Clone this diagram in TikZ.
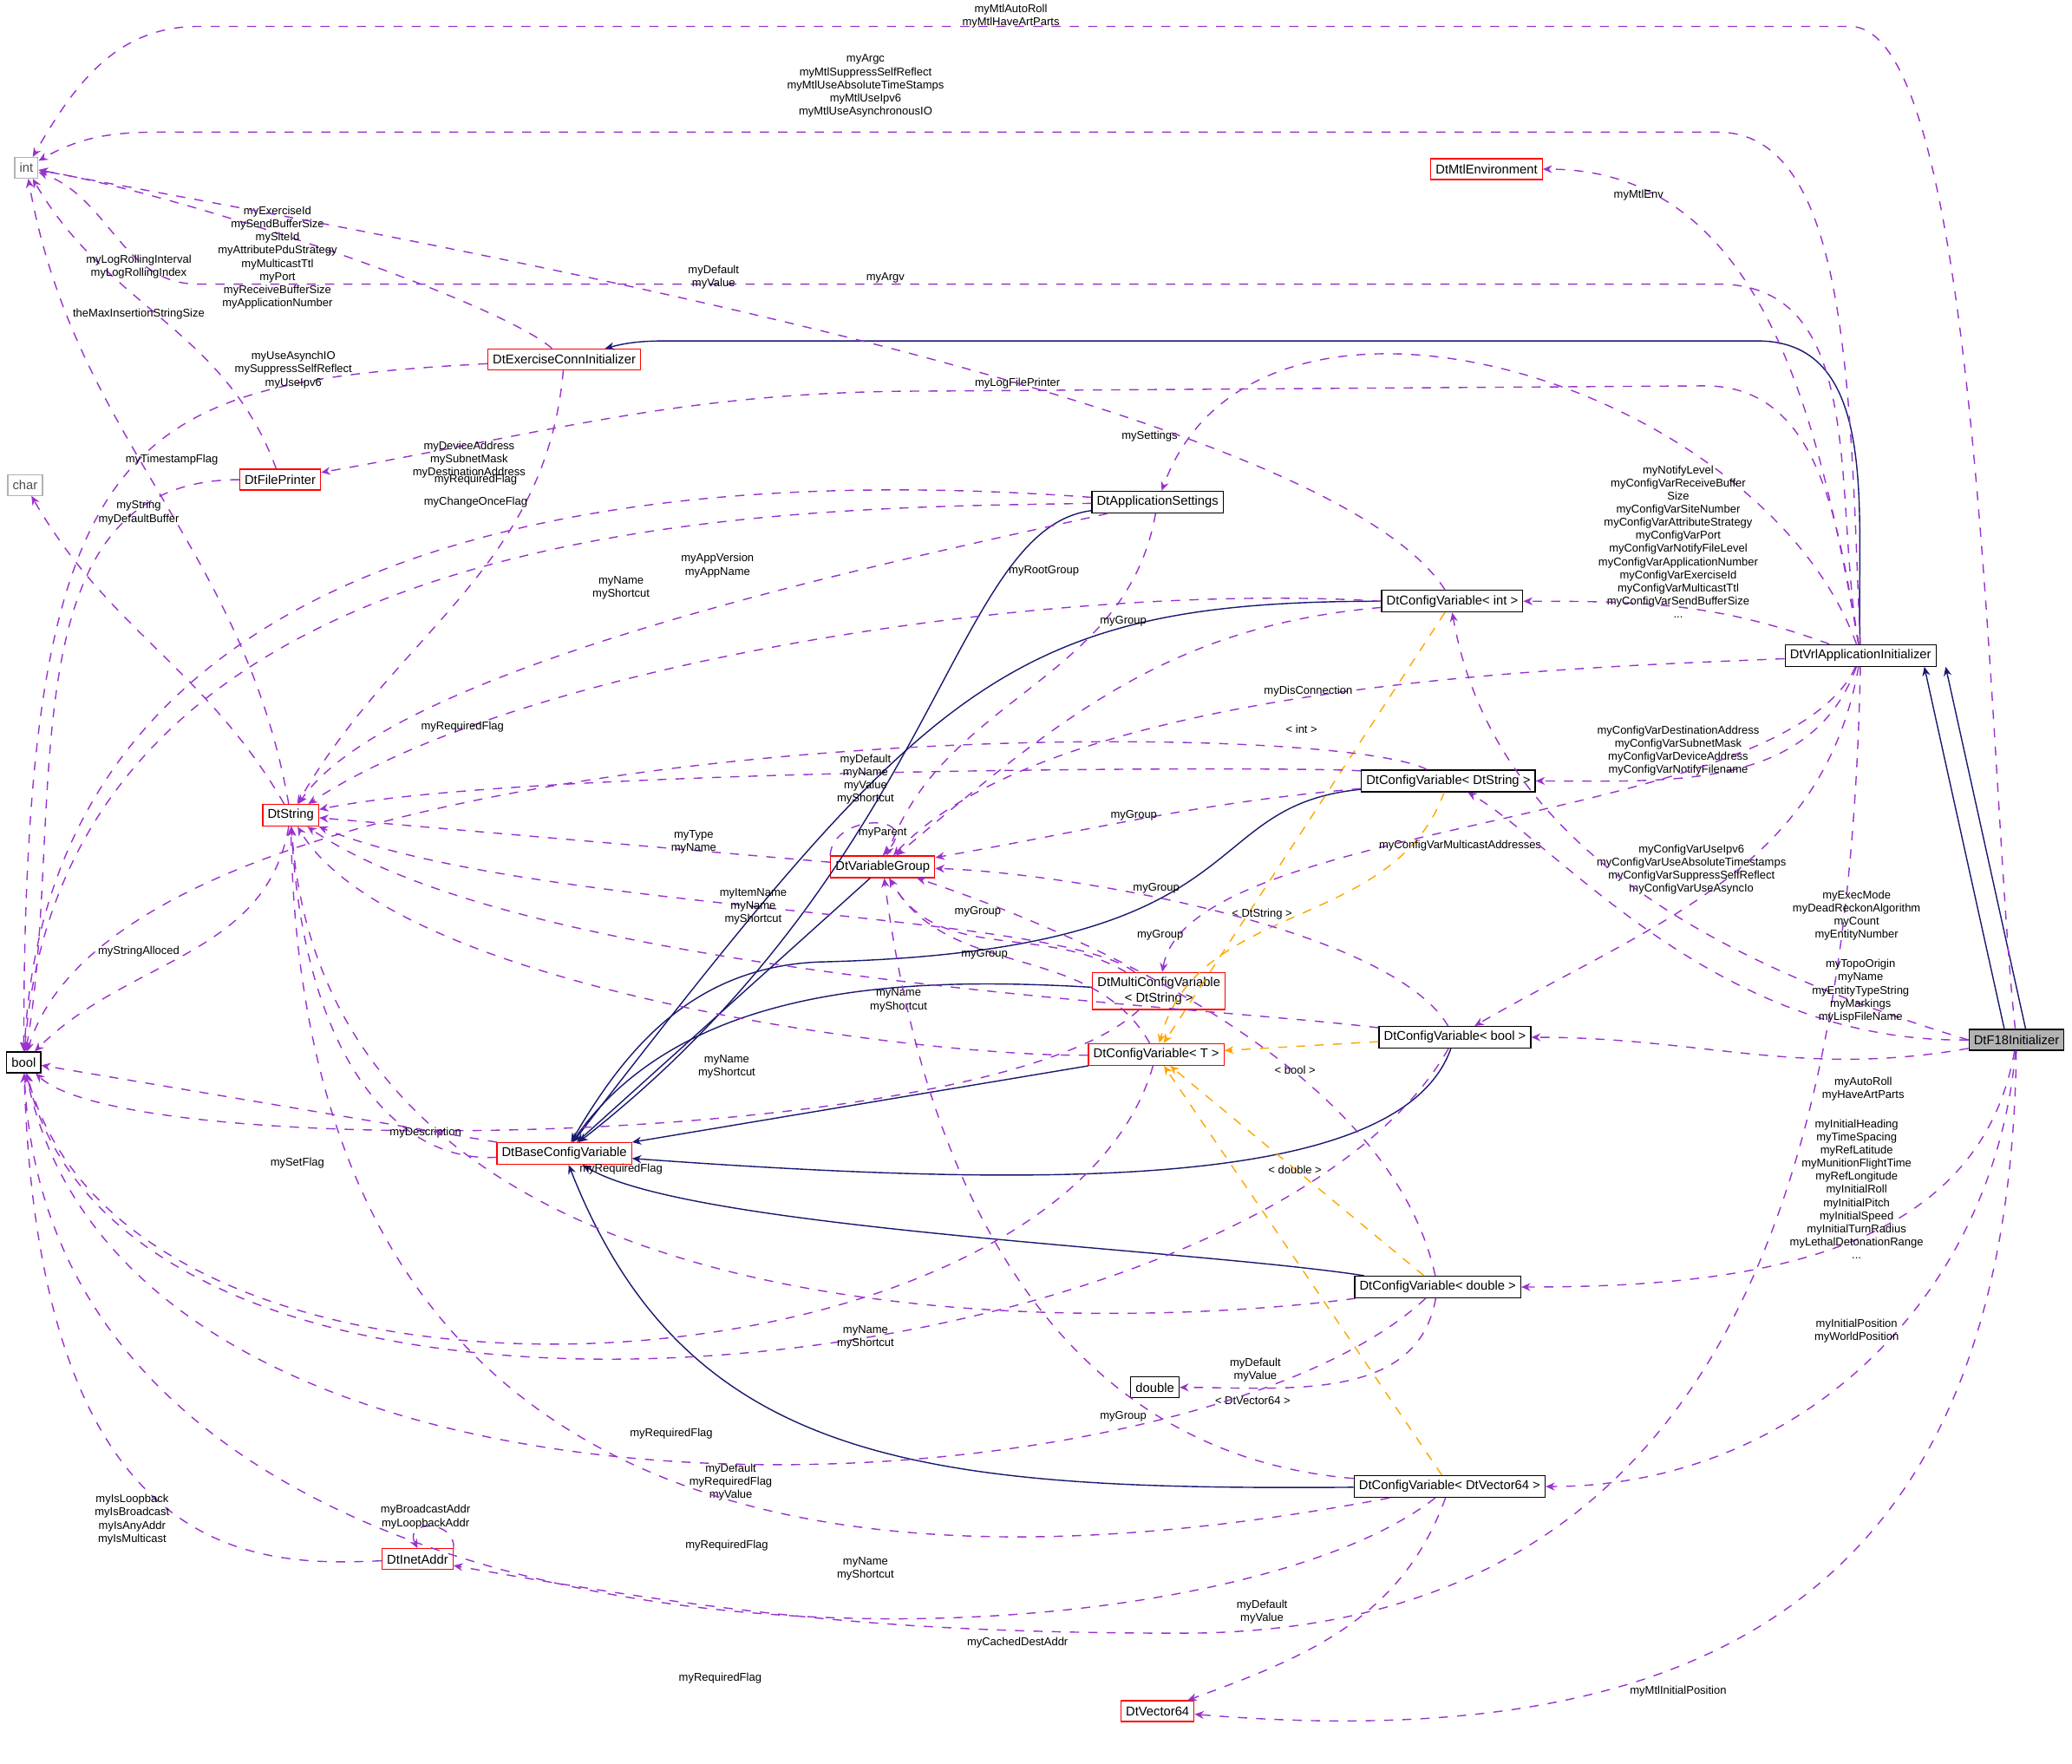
\documentclass[tikz,border=0pt]{standalone}
\usepackage{fontspec}
\setmainfont{Liberation Sans}
\usetikzlibrary{arrows.meta}
\definecolor{coll}{HTML}{9A32CD}
\definecolor{inhc}{HTML}{191970}
\definecolor{tmpl}{HTML}{FFA500}
\tikzset{
  box/.style={draw=black,line width=0.35pt,fill=white,font=\fontsize{4.2}{5}\selectfont,inner sep=1.6pt,minimum height=0.24cm},
  rbox/.style={box,draw=red},
  gbox/.style={box,draw=black!30,text=black!70},
  lbl/.style={align=center,font=\fontsize{3.7}{4.3}\selectfont,inner sep=0pt},
  use/.style={draw=coll,dashed,thin,-{Stealth[length=3pt,width=2.6pt]}},
  inh/.style={draw=inhc,thin,-{Stealth[length=3pt,width=2.6pt]}},
  tpl/.style={draw=tmpl,dashed,thin,-{Stealth[length=3pt,width=2.6pt]}}
}
\begin{document}
\begin{tikzpicture}[x=0.01524cm,y=0.01524cm]
\useasboundingbox (0,0) rectangle (1568,-1335);
% classes
\node[gbox] (int) at (20,-127) {int};
\node[gbox] (char) at (19,-367) {char};
\node[box] (bool) at (18,-804) {bool};
\node[rbox] (mtlenv) at (1125,-128) {DtMtlEnvironment};
\node[rbox] (exconn) at (427,-272) {DtExerciseConnInitializer};
\node[rbox] (fprint) at (212,-363) {DtFilePrinter};
\node[box] (appset) at (876,-380) {DtApplicationSettings};
\node[box] (cvint) at (1099,-455) {DtConfigVariable< int >};
\node[box] (vrl) at (1408,-496) {DtVrlApplicationInitializer};
\node[box] (cvstr) at (1096,-591) {DtConfigVariable< DtString >};
\node[rbox] (dtstr) at (220,-617) {DtString};
\node[rbox] (vgroup) at (668,-656) {DtVariableGroup};
\node[rbox,align=center] (multi) at (877,-750) {DtMultiConfigVariable\\< DtString >};
\node[rbox] (cvt) at (875,-798) {DtConfigVariable< T >};
\node[box] (cvbool) at (1101,-785) {DtConfigVariable< bool >};
\node[rbox] (base) at (427,-873) {DtBaseConfigVariable};
\node[box,fill=black!30] (f18) at (1526,-787) {DtF18Initializer};
\node[box] (cvdbl) at (1088,-974) {DtConfigVariable< double >};
\node[box] (dbl) at (874,-1050) {double};
\node[box] (cvvec) at (1097,-1125) {DtConfigVariable< DtVector64 >};
\node[rbox] (inet) at (316,-1180) {DtInetAddr};
\node[rbox] (vec) at (876,-1295) {DtVector64};
% inheritance
\draw[inh] (vrl) to[out=92,in=0] (1330,-258) -- (520,-258) to[out=180,in=15] (exconn);
\draw[inh] ([xshift=-4]f18.north) -- ([xshift=-4]vrl.south east);
\draw[inh] ([xshift=3]f18.north) -- ([xshift=3]vrl.south east);
\draw[inh] (appset) .. controls (720,-400) and (712,-650) .. (base);
\draw[inh] (cvint) .. controls (760,-455) and (700,-520) .. (base);
\draw[inh] (cvstr) .. controls (900,-610) and (960,-720) .. (620,-728) .. controls (520,-732) and (470,-800) .. (base);
\draw[inh] (vgroup) -- (base);
\draw[inh] (multi) .. controls (700,-740) and (520,-740) .. (base);
\draw[inh] (cvt) -- (base);
\draw[inh] (cvbool) .. controls (1060,-900) and (800,-900) .. (base);
\draw[inh] (cvdbl) .. controls (900,-945) and (520,-930) .. (base);
\draw[inh] (cvvec) .. controls (700,-1128) and (520,-1110) .. (base);
% templates
\draw[tpl] (cvint) -- (cvt);
\draw[tpl] (cvstr) to[out=-110,in=75] (cvt);
\draw[tpl] (cvbool) -- (cvt);
\draw[tpl] (cvdbl) -- (cvt);
\draw[tpl] (cvvec) -- (cvt);
\node[lbl] (tint) at (985,-552) {< int >};
\node[lbl] (tstr) at (955,-692) {< DtString >};
\node[lbl] (tbool) at (980,-810) {< bool >};
\node[lbl] (tdbl) at (980,-885) {< double >};
\node[lbl] (tvec) at (948,-1060) {< DtVector64 >};
% members of DtF18Initializer and DtVrlApplicationInitializer
\draw[use] (f18) .. controls (1505,-600) and (1500,-20) .. (1400,-20) -- (150,-20) to[out=180,in=60] (int);
\node[lbl] (l1) at (765,-12) {myMtlAutoRoll\\myMtlHaveArtParts};
\draw[use] (vrl) .. controls (1400,-300) and (1400,-100) .. (1300,-100) -- (150,-100) to[out=180,in=30] (int);
\node[lbl] (l2) at (655,-65) {myArgc\\myMtlSuppressSelfReflect\\myMtlUseAbsoluteTimeStamps\\myMtlUseIpv6\\myMtlUseAsynchronousIO};
\draw[use] (vrl) to[out=100,in=0] (mtlenv);
\node[lbl] (l3) at (1240,-148) {myMtlEnv};
\draw[use] (vrl) to[out=100,in=0] (1300,-215) -- (150,-215) to[out=180,in=-20] (int);
\node[lbl] (l4) at (670,-210) {myArgv};
\draw[use] (vrl) to[out=100,in=0] (1290,-292) -- (700,-296) to[out=180,in=10] (fprint);
\node[lbl] (l5) at (770,-290) {myLogFilePrinter};
\draw[use] (vrl) to[out=110,in=70] (appset);
\node[lbl] (l6) at (870,-330) {mySettings};
\draw[use] (vrl) to[out=160,in=0] (cvint);
\node[lbl] (l7) at (1270,-410) {myNotifyLevel\\myConfigVarReceiveBuffer\\Size\\myConfigVarSiteNumber\\myConfigVarAttributeStrategy\\myConfigVarPort\\myConfigVarNotifyFileLevel\\myConfigVarApplicationNumber\\myConfigVarExerciseId\\myConfigVarMulticastTtl\\myConfigVarSendBufferSize\\...};
\draw[use] (vrl) .. controls (1200,-505) and (800,-515) .. (vgroup);
\node[lbl] (l8) at (990,-523) {myDisConnection};
\draw[use] (vrl) to[out=-110,in=0] (cvstr);
\node[lbl] (l9) at (1270,-568) {myConfigVarDestinationAddress\\myConfigVarSubnetMask\\myConfigVarDeviceAddress\\myConfigVarNotifyFilename};
\draw[use] (vrl) .. controls (1350,-625) and (900,-620) .. (multi);
\node[lbl] (l10) at (1105,-640) {myConfigVarMulticastAddresses};
\draw[use] (vrl) to[out=-100,in=30] (cvbool);
\node[lbl] (l11) at (1280,-658) {myConfigVarUseIpv6\\myConfigVarUseAbsoluteTimestamps\\myConfigVarSuppressSelfReflect\\myConfigVarUseAsyncIo};
\draw[use] (vrl) .. controls (1400,-900) and (1300,-1232) .. (900,-1236) to[out=180,in=-10] (inet);
\node[lbl] (l12) at (770,-1243) {myCachedDestAddr};
\draw[use] (f18.west) .. controls (1300,-730) and (1130,-640) .. (cvint.south);
\node[lbl] (l13) at (1405,-693) {myExecMode\\myDeadReckonAlgorithm\\myCount\\myEntityNumber};
\draw[use] (f18.west) .. controls (1300,-790) and (1180,-640) .. (cvstr);
\node[lbl] (l14) at (1408,-750) {myTopoOrigin\\myName\\myEntityTypeString\\myMarkings\\myLispFileName};
\draw[use] (f18) to[out=190,in=0] (cvbool);
\node[lbl] (l15) at (1410,-824) {myAutoRoll\\myHaveArtParts};
\draw[use] (f18) to[out=-100,in=0] (cvdbl);
\node[lbl] (l16) at (1405,-900) {myInitialHeading\\myTimeSpacing\\myRefLatitude\\myMunitionFlightTime\\myRefLongitude\\myInitialRoll\\myInitialPitch\\myInitialSpeed\\myInitialTurnRadius\\myLethalDetonationRange\\...};
\draw[use] (f18) to[out=-95,in=0] (cvvec);
\node[lbl] (l17) at (1405,-1007) {myInitialPosition\\myWorldPosition};
\draw[use] (f18) .. controls (1520,-1200) and (1300,-1330) .. (vec);
\node[lbl] (l18) at (1270,-1280) {myMtlInitialPosition};
% members of the helpers
\draw[use] (exconn) .. controls (380,-230) and (150,-150) .. (int);
\node[lbl] (l19) at (210,-195) {myExerciseId\\mySendBufferSize\\mySiteId\\myAttributePduStrategy\\myMulticastTtl\\myPort\\myReceiveBufferSize\\myApplicationNumber};
\draw[use] (exconn) .. controls (100,-290) and (18,-320) .. (bool);
\node[lbl] (l20) at (222,-280) {myUseAsynchIO\\mySuppressSelfReflect\\myUseIpv6};
\draw[use] (exconn) to[out=-95,in=60] (dtstr);
\node[lbl] (l21) at (355,-348) {myDeviceAddress\\mySubnetMask\\myDestinationAddress};
\draw[use] (fprint) to[out=110,in=-60] (int);
\node[lbl] (l22) at (105,-202) {myLogRollingInterval\\myLogRollingIndex};
\draw[use] (fprint.west) to[out=180,in=80] (bool);
\node[lbl] (l23) at (130,-348) {myTimestampFlag};
\draw[use] (dtstr) to[out=100,in=-80] (int);
\node[lbl] (l24) at (105,-238) {theMaxInsertionStringSize};
\draw[use] (dtstr) to[out=120,in=-60] (char);
\node[lbl] (l25) at (105,-388) {myString\\myDefaultBuffer};
\draw[use] (dtstr) to[out=-100,in=45] (bool);
\node[lbl] (l26) at (105,-720) {myStringAlloced};
\draw[use] (appset) .. controls (600,-360) and (40,-350) .. (bool);
\node[lbl] (l27) at (360,-363) {myRequiredFlag};
\draw[use] (appset) .. controls (600,-385) and (50,-380) .. (bool);
\node[lbl] (l28) at (360,-380) {myChangeOnceFlag};
\draw[use] (appset) .. controls (700,-420) and (300,-500) .. (dtstr);
\node[lbl] (l29) at (543,-428) {myAppVersion\\myAppName};
\draw[use] (appset) to[out=-100,in=70] (vgroup);
\node[lbl] (l30) at (790,-432) {myRootGroup};
\draw[use] (cvint) .. controls (1000,-300) and (300,-180) .. (int);
\node[lbl] (l31) at (540,-210) {myDefault\\myValue};
\draw[use] (cvint.west) .. controls (800,-440) and (400,-500) .. (dtstr);
\node[lbl] (l32) at (470,-445) {myName\\myShortcut};
\draw[use] (cvint) to[out=-175,in=40] (vgroup);
\node[lbl] (l33) at (850,-470) {myGroup};
\draw[use] (cvstr) .. controls (1000,-540) and (100,-540) .. (bool);
\node[lbl] (l34) at (350,-550) {myRequiredFlag};
\draw[use] (cvstr) .. controls (1000,-580) and (400,-580) .. (dtstr);
\node[lbl] (l35) at (655,-590) {myDefault\\myName\\myValue\\myShortcut};
\draw[use] (cvstr) to[out=185,in=10] (vgroup);
\node[lbl] (l36) at (858,-617) {myGroup};
\draw[use] (vgroup) -- (dtstr);
\node[lbl] (l37) at (525,-637) {myType\\myName};
\draw[use] (vgroup.north west) .. controls (630,-615) and (700,-615) .. (vgroup.north);
\node[lbl] (l38) at (668,-630) {myParent};
\draw[use] (multi) .. controls (800,-690) and (400,-690) .. (dtstr);
\node[lbl] (l39) at (570,-686) {myItemName\\myName\\myShortcut};
\draw[use] (multi) to[out=150,in=-60] (vgroup);
\node[lbl] (l40) at (740,-690) {myGroup};
\draw[use] (multi) .. controls (750,-870) and (100,-880) .. (bool);
\node[lbl] (l41) at (470,-885) {myRequiredFlag};
\draw[use] (cvt) .. controls (700,-800) and (300,-750) .. (dtstr);
\node[lbl] (l42) at (550,-807) {myName\\myShortcut};
\draw[use] (cvt) to[out=120,in=-60] (vgroup);
\node[lbl] (l43) at (745,-722) {myGroup};
\draw[use] (cvt) .. controls (800,-1060) and (100,-1110) .. (bool);
\node[lbl] (l44) at (508,-1085) {myRequiredFlag};
\draw[use] (cvbool) .. controls (900,-760) and (400,-740) .. (dtstr);
\node[lbl] (l45) at (680,-757) {myName\\myShortcut};
\draw[use] (cvbool) .. controls (1050,-700) and (800,-660) .. (vgroup);
\node[lbl] (l46) at (875,-672) {myGroup};
\draw[use] (cvbool) .. controls (950,-1050) and (100,-1150) .. (bool);
\node[lbl] (l47) at (553,-1122) {myDefault\\myRequiredFlag\\myValue};
\draw[use] (base) .. controls (300,-880) and (230,-800) .. (dtstr);
\node[lbl] (l48) at (322,-857) {myDescription};
\draw[use] (base) -- (bool);
\node[lbl] (l49) at (225,-880) {mySetFlag};
\draw[use] (cvdbl) .. controls (900,-1000) and (250,-1050) .. (dtstr);
\node[lbl] (l50) at (655,-1012) {myName\\myShortcut};
\draw[use] (cvdbl) .. controls (1050,-800) and (800,-700) .. (vgroup);
\node[lbl] (l51) at (878,-708) {myGroup};
\draw[use] (cvdbl) to[out=-100,in=0] (dbl);
\node[lbl] (l52) at (950,-1037) {myDefault\\myValue};
\draw[use] (cvdbl) .. controls (900,-1150) and (100,-1200) .. (bool);
\node[lbl] (l53) at (550,-1170) {myRequiredFlag};
\draw[use] (cvvec) .. controls (800,-1100) and (700,-900) .. (vgroup);
\node[lbl] (l54) at (850,-1072) {myGroup};
\draw[use] (cvvec) .. controls (700,-1200) and (230,-1200) .. (dtstr);
\node[lbl] (l55) at (655,-1187) {myName\\myShortcut};
\draw[use] (cvvec) to[out=-110,in=20] (vec);
\node[lbl] (l56) at (955,-1220) {myDefault\\myValue};
\draw[use] (cvvec) .. controls (900,-1280) and (40,-1300) .. (bool);
\node[lbl] (l57) at (545,-1270) {myRequiredFlag};
\draw[use] (inet) .. controls (200,-1185) and (30,-1190) .. (bool);
\node[lbl] (l58) at (100,-1150) {myIsLoopback\\myIsBroadcast\\myIsAnyAddr\\myIsMulticast};
\draw[use] (inet.north east) .. controls (345,-1150) and (305,-1150) .. (inet.north);
\node[lbl] (l59) at (322,-1148) {myBroadcastAddr\\myLoopbackAddr};
\end{tikzpicture}
\end{document}
